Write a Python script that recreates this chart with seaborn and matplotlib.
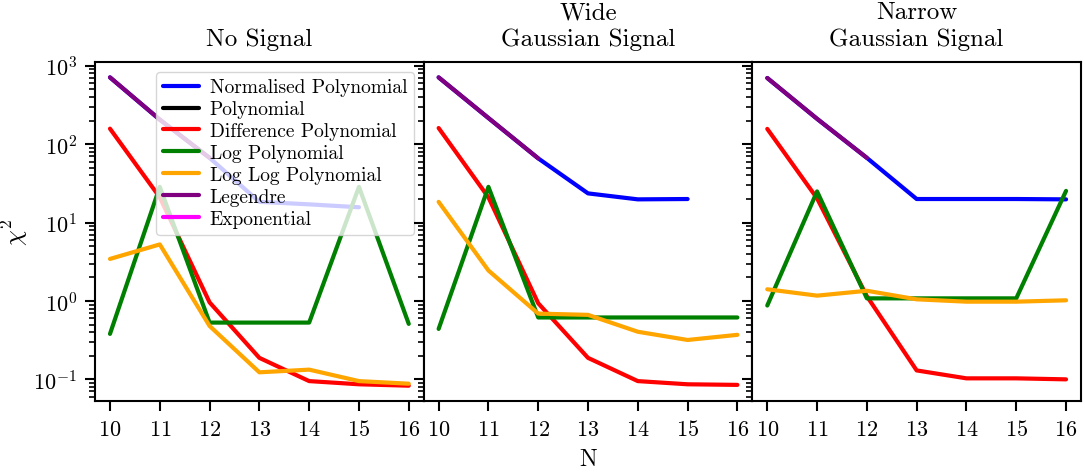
import numpy as np
import matplotlib
matplotlib.use("Agg")
import matplotlib.pyplot as plt
from matplotlib.lines import Line2D
import seaborn as sns

nan = np.nan
N = [10, 11, 12, 13, 14, 15, 16]

series_names = ["Normalised Polynomial", "Polynomial", "Difference Polynomial",
                "Log Polynomial", "Log Log Polynomial", "Legendre", "Exponential"]
series_colors = ["blue", "black", "red", "green", "orange", "purple", "magenta"]

panel_titles = ["No Signal", "Wide\nGaussian Signal", "Narrow\nGaussian Signal"]

# No signal
none_norm_poly = [713, 206, 67, 18.4, 17.1, 15.7, nan]
none_poly = [nan] * 7
none_diff_poly = [158, 21, 0.96, 0.188, 0.095, 0.0865, 0.083]
none_log_poly = [0.38, 28.6, 0.53, 0.53, 0.53, 28.6, 0.51]
none_loglog_poly = [3.44, 5.27, 0.48, 0.123, 0.133, 0.095, 0.088]
none_legendre = [713, 206, 67, nan, nan, nan, nan]
none_exponential = [nan] * 7

# Wide Gaussian signal
wide_norm_poly = [713, 216, 66, 23.6, 19.8, 20.0, nan]
wide_poly = [nan] * 7
wide_diff_poly = [161, 21, 0.935, 0.188, 0.095, 0.0865, 0.085]
wide_log_poly = [0.44, 28.6, 0.616, 0.616, 0.616, 0.616, 0.616]
wide_loglog_poly = [18.4, 2.45, 0.69, 0.665, 0.405, 0.318, 0.37]
wide_legendre = [713, 216, 66, nan, nan, nan, nan]
wide_exponential = [nan] * 7

# Narrow Gaussian signal
narrow_norm_poly = [700, 211, 67, 20.0, 20.0, 20.0, 19.8]
narrow_poly = [nan] * 7
narrow_diff_poly = [157, 20.4, 1.15, 0.13, 0.103, 0.103, 0.100]
narrow_log_poly = [0.875, 25, 1.08, 1.08, 1.08, 1.08, 25.4]
narrow_loglog_poly = [1.41, 1.17, 1.35, 1.05, 0.98, 0.98, 1.02]
narrow_legendre = [700, 211, 67, nan, nan, nan, nan]
narrow_exponential = [nan] * 7

panels = [
    [none_norm_poly, none_poly, none_diff_poly, none_log_poly, none_loglog_poly,
     none_legendre, none_exponential],
    [wide_norm_poly, wide_poly, wide_diff_poly, wide_log_poly, wide_loglog_poly,
     wide_legendre, wide_exponential],
    [narrow_norm_poly, narrow_poly, narrow_diff_poly, narrow_log_poly,
     narrow_loglog_poly, narrow_legendre, narrow_exponential],
]

sns.set_style("ticks")
plt.rcParams["font.family"] = ["cmr10", "DejaVu Serif"]
plt.rcParams["mathtext.fontset"] = "cm"
plt.rcParams["axes.formatter.use_mathtext"] = True
plt.rcParams["axes.unicode_minus"] = False
plt.rcParams["axes.linewidth"] = 1.5
plt.rcParams["axes.edgecolor"] = "black"
plt.rcParams["xtick.color"] = "black"
plt.rcParams["ytick.color"] = "black"
plt.rcParams["text.color"] = "black"
plt.rcParams["axes.labelcolor"] = "black"

fig, axes = plt.subplots(1, 3, figsize=(10.85, 4.77), dpi=100, sharey=True)
fig.subplots_adjust(left=0.0876, right=0.9963, top=0.868, bottom=0.157, wspace=0)

for ax, data, title in zip(axes, panels, panel_titles):
    for vals, name, col in zip(data, series_names, series_colors):
        arr = np.array(vals, dtype=float)
        if np.all(np.isnan(arr)):
            continue
        sns.lineplot(x=N, y=arr, ax=ax, color=col, linewidth=3,
                     errorbar=None, legend=False)
    ax.set_yscale("log")
    ax.set_xticks(N)
    ax.set_title(title, fontsize=18, pad=12, linespacing=1.25)
    ax.tick_params(axis="both", which="major", labelsize=16, length=7, width=1.5,
                   direction="out", pad=6)
    ax.tick_params(axis="y", which="minor", length=4, width=1.2, direction="out")
    for s in ax.spines.values():
        s.set_visible(True)
        s.set_linewidth(1.5)

axes[0].set_ylabel(r"$\chi^2$", fontsize=18, labelpad=2)
axes[1].set_xlabel("N", fontsize=17, labelpad=6)

handles = [Line2D([0], [0], color=c, lw=3) for c in series_colors]
axes[0].legend(handles, series_names, loc="upper right", fontsize=14,
               labelspacing=0.2, borderpad=0.35, handlelength=1.85,
               handletextpad=0.55, framealpha=0.8)

fig.savefig("out.png", dpi=100)
